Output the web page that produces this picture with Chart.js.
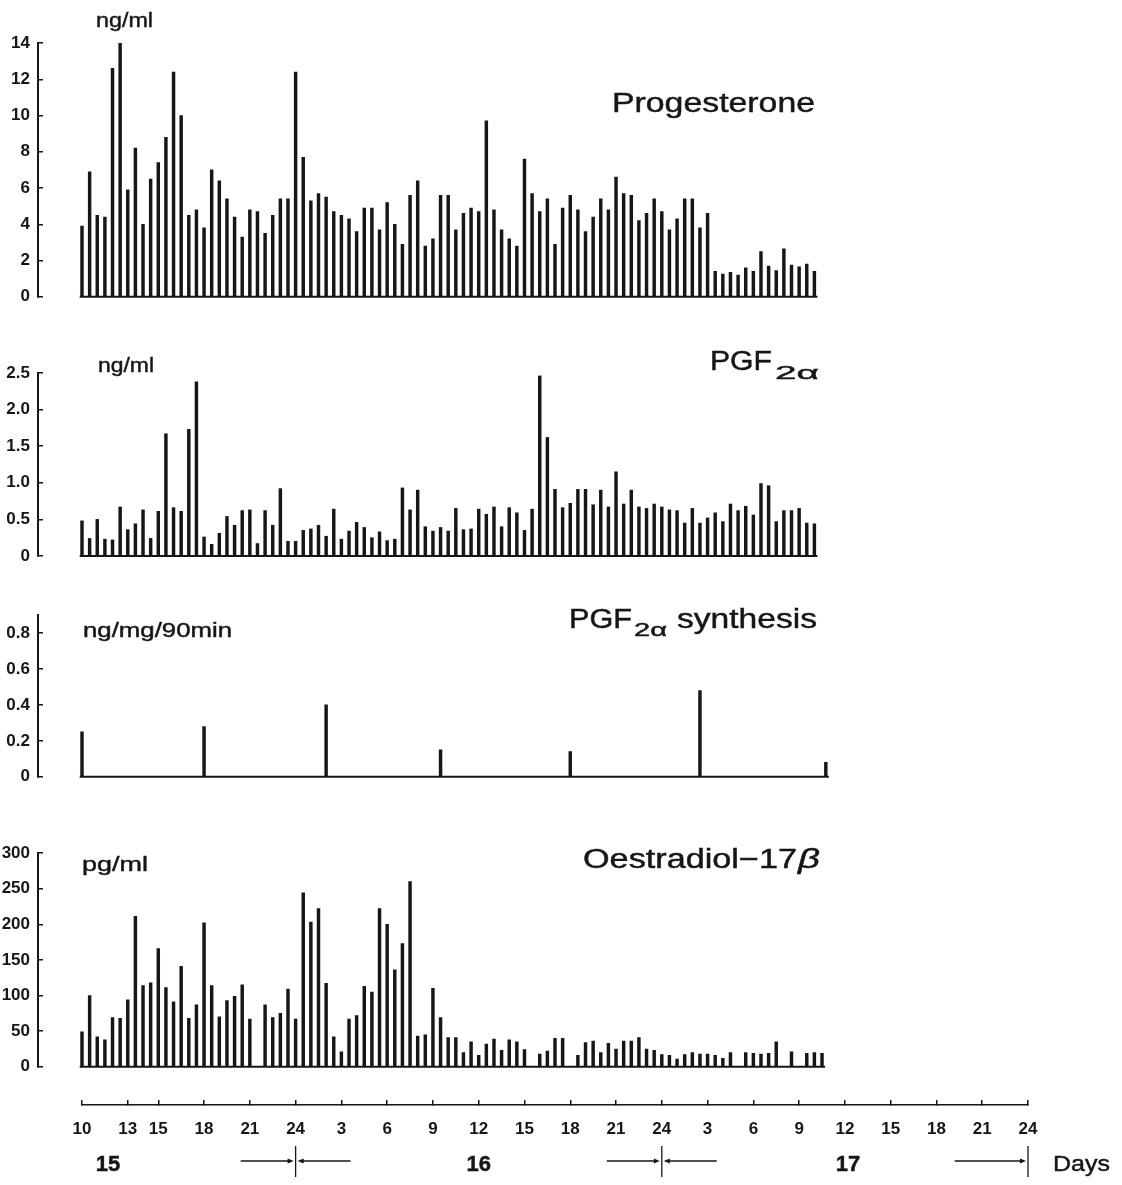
<!DOCTYPE html>
<html>
<head>
<meta charset="utf-8">
<title>Progesterone, PGF2α and oestradiol-17β, days 15–17</title>
<script src="https://cdn.jsdelivr.net/npm/chart.js@4.4.1/dist/chart.umd.min.js"></script>
<style>
  html, body { margin: 0; padding: 0; background: #fff; }
  #fig { position: relative; width: 1122px; height: 1185px; overflow: hidden; background: #fff; }
  #fig canvas { position: absolute; left: 0; }
  #labels { position: absolute; left: 0; top: 0; pointer-events: none; }
  #labels text { font-family: "Liberation Sans", Arial, sans-serif; fill: #161616; stroke: #161616; stroke-width: 0.45; }
</style>
</head>
<body>
<div id="fig">
  <canvas id="cProg" width="1122" height="320" style="top:0px"></canvas>
  <canvas id="cPgf" width="1122" height="260" style="top:320px"></canvas>
  <canvas id="cSyn" width="1122" height="220" style="top:580px"></canvas>
  <canvas id="cOes" width="1122" height="290" style="top:800px"></canvas>
  <canvas id="cTime" width="1122" height="95" style="top:1090px"></canvas>

  <svg id="labels" width="1122" height="1185" xmlns="http://www.w3.org/2000/svg">
    <!-- Progesterone -->
    <text x="96" y="27" font-size="21" textLength="57" lengthAdjust="spacingAndGlyphs">ng/ml</text>
    <text x="612" y="112" font-size="27" textLength="203" lengthAdjust="spacingAndGlyphs">Progesterone</text>
    <!-- PGF2α -->
    <text x="98" y="372" font-size="21" textLength="56" lengthAdjust="spacingAndGlyphs">ng/ml</text>
    <text x="710" y="370" font-size="27" textLength="62" lengthAdjust="spacingAndGlyphs">PGF</text>
    <text x="775" y="379" font-size="19" textLength="44" lengthAdjust="spacingAndGlyphs">2α</text>
    <!-- PGF2α synthesis -->
    <text x="83" y="637" font-size="20" textLength="149" lengthAdjust="spacingAndGlyphs">ng/mg/90min</text>
    <text x="569" y="628" font-size="27" textLength="63" lengthAdjust="spacingAndGlyphs">PGF</text>
    <text x="634" y="636" font-size="18" textLength="33" lengthAdjust="spacingAndGlyphs">2α</text>
    <text x="677" y="628" font-size="27" textLength="140" lengthAdjust="spacingAndGlyphs">synthesis</text>
    <!-- Oestradiol-17β -->
    <text x="82" y="871" font-size="21" textLength="66" lengthAdjust="spacingAndGlyphs">pg/ml</text>
    <text x="583" y="868" font-size="27" textLength="214" lengthAdjust="spacingAndGlyphs">Oestradiol−17</text>
    <text x="798" y="868" font-size="27" font-style="italic" textLength="22" lengthAdjust="spacingAndGlyphs">β</text>
    <!-- time axis -->
    <g id="dayLabels"></g>
    <text x="1053" y="1171" font-size="22" textLength="57" lengthAdjust="spacingAndGlyphs">Days</text>
  </svg>
</div>

<script>
// ---------------------------------------------------------------
// Data: plasma samples every 30 min, starting 10:00 on day 15.
// Hours are counted from 00:00 on day 15 (day 16 = 24..48, day 17 = 48..72).
// ---------------------------------------------------------------
const sampleStartHour = 10;
const sampleStepHours = 0.5;

// Progesterone, ng/ml
const progesterone = [
  3.9, 6.9, 4.5, 4.4, 12.6, 14.0, 5.9, 8.2, 4.0, 6.5,
  7.4, 8.8, 12.4, 10.0, 4.5, 4.8, 3.8, 7.0, 6.4, 5.4,
  4.4, 3.3, 4.8, 4.7, 3.5, 4.5, 5.4, 5.4, 12.4, 7.7,
  5.3, 5.7, 5.5, 4.7, 4.5, 4.3, 3.6, 4.9, 4.9, 3.7,
  5.2, 4.0, 2.9, 5.6, 6.4, 2.8, 3.2, 5.6, 5.6, 3.7,
  4.6, 4.9, 4.7, 9.7, 4.8, 3.7, 3.2, 2.8, 7.6, 5.7,
  4.7, 5.4, 2.9, 4.9, 5.6, 4.8, 3.6, 4.4, 5.4, 4.8,
  6.6, 5.7, 5.6, 4.2, 4.6, 5.4, 4.7, 3.7, 4.3, 5.4,
  5.4, 3.8, 4.6, 1.4, 1.25, 1.35, 1.2, 1.6, 1.4, 2.5,
  1.7, 1.45, 2.65, 1.75, 1.65, 1.8, 1.4
];

// PGF2α, ng/ml
const pgf2a = [
  0.48, 0.24, 0.50, 0.23, 0.22, 0.67, 0.36, 0.44, 0.63, 0.24,
  0.61, 1.67, 0.66, 0.61, 1.73, 2.38, 0.26, 0.16, 0.31, 0.54,
  0.42, 0.62, 0.63, 0.17, 0.62, 0.42, 0.92, 0.20, 0.20, 0.35,
  0.37, 0.42, 0.27, 0.64, 0.23, 0.34, 0.46, 0.39, 0.25, 0.33,
  0.21, 0.23, 0.93, 0.63, 0.90, 0.40, 0.34, 0.39, 0.34, 0.65,
  0.36, 0.37, 0.64, 0.57, 0.67, 0.40, 0.66, 0.59, 0.35, 0.64,
  2.46, 1.62, 0.91, 0.66, 0.72, 0.91, 0.91, 0.70, 0.90, 0.67,
  1.15, 0.71, 0.90, 0.67, 0.65, 0.71, 0.67, 0.63, 0.62, 0.45,
  0.65, 0.45, 0.52, 0.59, 0.47, 0.71, 0.62, 0.68, 0.56, 0.99,
  0.96, 0.47, 0.62, 0.62, 0.65, 0.45, 0.44
];

// Oestradiol-17β, pg/ml (null = no sample)
const oestradiol = [
  49, 100, 42, 38, 69, 68, 94, 211, 114, 118,
  166, 111, 91, 141, 68, 87, 202, 114, 70, 93,
  99, 115, 67, null, 87, 69, 75, 109, 67, 244,
  203, 222, 117, 42, 21, 67, 72, 113, 105, 222,
  200, 136, 173, 260, 43, 45, 110, 69, 41, 41,
  20, 35, 16, 32, 39, 23, 38, 35, 24, null,
  18, 22, 40, 40, null, 16, 34, 36, 20, 33,
  25, 36, 36, 41, 25, 23, 17, 16, 11, 17,
  20, 18, 18, 16, 12, 20, null, 20, 19, 18,
  19, 35, null, 21, null, 19, 20, 19
];

// PGF2α synthesis, ng/mg/90min
const synthesisHours = [10, 18, 26, 33.5, 42, 50.5, 58.75];
const synthesis = [0.25, 0.28, 0.40, 0.15, 0.14, 0.48, 0.08];

// Axis ticks
const progTicks = [0, 2, 4, 6, 8, 10, 12, 14];
const progTickLabels = ['0', '2', '4', '6', '8', '10', '12', '14'];
const pgfTicks = [0, 0.5, 1, 1.5, 2, 2.5];
const pgfTickLabels = ['0', '0.5', '1.0', '1.5', '2.0', '2.5'];
const synTicks = [0, 0.2, 0.4, 0.6, 0.8];
const synTickLabels = ['0', '0.2', '0.4', '0.6', '0.8'];
const oesTicks = [0, 50, 100, 150, 200, 250, 300];
const oesTickLabels = ['0', '50', '100', '150', '200', '250', '300'];

const axisHours = [10, 13, 15, 18, 21, 24, 27, 30, 33, 36, 39, 42, 45, 48, 51, 54, 57, 60, 63, 66, 69, 72];
const axisLabels = ['10', '13', '15', '18', '21', '24', '3', '6', '9', '12', '15', '18', '21', '24',
                    '3', '6', '9', '12', '15', '18', '21', '24'];
const dayNames = ['15', '16', '17'];
const dayLabelHours = [11.7, 36, 60.2];
const dayBoundaries = [24, 48];
const axisStartHour = 10;
const axisEndHour = 72;

// ---------------------------------------------------------------
// Layout: every panel shares one hour -> pixel mapping
// ---------------------------------------------------------------
const INK = '#161616';
const W = 1122;
const X_AXIS_START = 82;     // pixel of the first axis hour
const X_AXIS_END = 1028;     // pixel of the last axis hour
const PX_PER_HOUR = (X_AXIS_END - X_AXIS_START) / (axisEndHour - axisStartHour);
const hourAt = px => axisStartHour + (px - X_AXIS_START) / PX_PER_HOUR;
const PANEL_LEFT = 38;       // y-axis line of each panel
const PANEL_RIGHT = 1060;
const TICK_FONT = { family: '"Liberation Sans", Arial, sans-serif', size: 17, weight: 'bold' };

Chart.defaults.font.family = '"Liberation Sans", Arial, sans-serif';
Chart.defaults.color = INK;

function sampleSeries(values) {
  const pts = [];
  values.forEach((v, i) => {
    if (v !== null) pts.push({ x: sampleStartHour + i * sampleStepHours, y: v });
  });
  return pts;
}

function pairSeries(hours, values) {
  return hours.map((h, i) => ({ x: h, y: values[i] }));
}

function makePanel(id, cfg) {
  const xs = cfg.points.map(p => p.x);
  const baseFrom = Math.min(...xs) - 0.15;
  const baseTo = Math.max(...xs) + 0.2;
  return new Chart(document.getElementById(id), {
    type: 'bar',
    data: {
      datasets: [
        {
          type: 'bar',
          data: cfg.points,
          backgroundColor: INK,
          borderWidth: 0,
          barThickness: 2.8,
          grouped: false
        },
        {
          type: 'line',
          data: [{ x: baseFrom, y: 0 }, { x: baseTo, y: 0 }],
          borderColor: INK,
          borderWidth: 2,
          pointRadius: 0,
          clip: false
        }
      ]
    },
    options: {
      responsive: false,
      animation: false,
      events: [],
      devicePixelRatio: 1,
      layout: { padding: { left: 0, right: W - PANEL_RIGHT, top: cfg.padTop, bottom: cfg.padBottom } },
      plugins: { legend: { display: false }, tooltip: { enabled: false } },
      scales: {
        x: {
          type: 'linear',
          display: false,
          offset: false,
          min: hourAt(PANEL_LEFT),
          max: hourAt(PANEL_RIGHT)
        },
        y: {
          type: 'linear',
          min: 0,
          max: cfg.max,
          afterFit: s => { s.width = PANEL_LEFT; },
          afterBuildTicks: s => { s.ticks = cfg.ticks.map(v => ({ value: v })); },
          ticks: {
            autoSkip: false,
            padding: 13,
            color: INK,
            font: TICK_FONT,
            callback: (v, i) => cfg.tickLabels[i]
          },
          grid: { drawOnChartArea: false, drawTicks: true, tickLength: -5, color: INK, lineWidth: 1.5 },
          border: { display: true, color: INK, width: 2 }
        }
      }
    }
  });
}

makePanel('cProg', { points: sampleSeries(progesterone), max: 14, ticks: progTicks, tickLabels: progTickLabels, padTop: 43, padBottom: 21 });
makePanel('cPgf', { points: sampleSeries(pgf2a), max: 2.5, ticks: pgfTicks, tickLabels: pgfTickLabels, padTop: 53, padBottom: 24 });
makePanel('cSyn', { points: pairSeries(synthesisHours, synthesis), max: 0.9, ticks: synTicks, tickLabels: synTickLabels, padTop: 35, padBottom: 22 });
makePanel('cOes', { points: sampleSeries(oestradiol), max: 300, ticks: oesTicks, tickLabels: oesTickLabels, padTop: 53, padBottom: 17 });

// Day-boundary arrows under the time axis: —→|←—
const ARROW_SPAN = 3.6;
const ARROW_Y = 71, BAR_TOP = 56, BAR_BOTTOM = 87;

function drawArrow(ctx, fromX, toX, y) {
  const dir = Math.sign(toX - fromX);
  ctx.beginPath();
  ctx.moveTo(fromX, y);
  ctx.lineTo(toX - dir * 4, y);
  ctx.stroke();
  ctx.beginPath();
  ctx.moveTo(toX, y);
  ctx.lineTo(toX - dir * 6, y - 2.5);
  ctx.lineTo(toX - dir * 6, y + 2.5);
  ctx.closePath();
  ctx.fill();
}

const dayArrows = {
  id: 'dayArrows',
  afterDraw(chart) {
    const { ctx } = chart;
    const x = chart.scales.x;
    ctx.save();
    ctx.strokeStyle = INK;
    ctx.fillStyle = INK;
    ctx.lineWidth = 1.3;
    const bar = px => {
      ctx.beginPath();
      ctx.moveTo(px, BAR_TOP);
      ctx.lineTo(px, BAR_BOTTOM);
      ctx.stroke();
    };
    dayBoundaries.forEach(h => {
      const xc = x.getPixelForValue(h);
      drawArrow(ctx, x.getPixelForValue(h - ARROW_SPAN), xc - 2, ARROW_Y);
      drawArrow(ctx, x.getPixelForValue(h + ARROW_SPAN), xc + 2, ARROW_Y);
      bar(xc);
    });
    const xe = x.getPixelForValue(axisEndHour);
    drawArrow(ctx, x.getPixelForValue(axisEndHour - 4.8), xe - 2, ARROW_Y);
    bar(xe);
    ctx.restore();
  }
};

const timeChart = new Chart(document.getElementById('cTime'), {
  type: 'line',
  data: { datasets: [] },
  options: {
    responsive: false,
    animation: false,
    events: [],
    devicePixelRatio: 1,
    layout: { padding: { left: X_AXIS_START, right: W - X_AXIS_END, top: 5, bottom: 0 } },
    plugins: { legend: { display: false }, tooltip: { enabled: false } },
    scales: {
      x: {
        type: 'linear',
        position: 'bottom',
        offset: false,
        min: axisStartHour,
        max: axisEndHour,
        afterFit: s => { s.height = 80; },
        afterBuildTicks: s => { s.ticks = axisHours.map(v => ({ value: v })); },
        ticks: {
          autoSkip: false,
          maxRotation: 0,
          padding: 19,
          color: INK,
          font: TICK_FONT,
          callback: (v, i) => axisLabels[i]
        },
        grid: { drawOnChartArea: false, drawTicks: true, tickLength: -5, color: INK, lineWidth: 1.5 },
        border: { display: true, color: INK, width: 1.5 }
      },
      y: { display: false, min: 0, max: 1 }
    }
  },
  plugins: [dayArrows]
});

// Day numbers under the axis, placed from the time scale
const SVG_NS = 'http://www.w3.org/2000/svg';
const dayGroup = document.getElementById('dayLabels');
dayNames.forEach((name, i) => {
  const t = document.createElementNS(SVG_NS, 'text');
  t.setAttribute('x', timeChart.scales.x.getPixelForValue(dayLabelHours[i]));
  t.setAttribute('y', 1171);
  t.setAttribute('font-size', '22');
  t.setAttribute('font-weight', 'bold');
  t.setAttribute('text-anchor', 'middle');
  t.textContent = name;
  dayGroup.appendChild(t);
});
</script>
</body>
</html>
